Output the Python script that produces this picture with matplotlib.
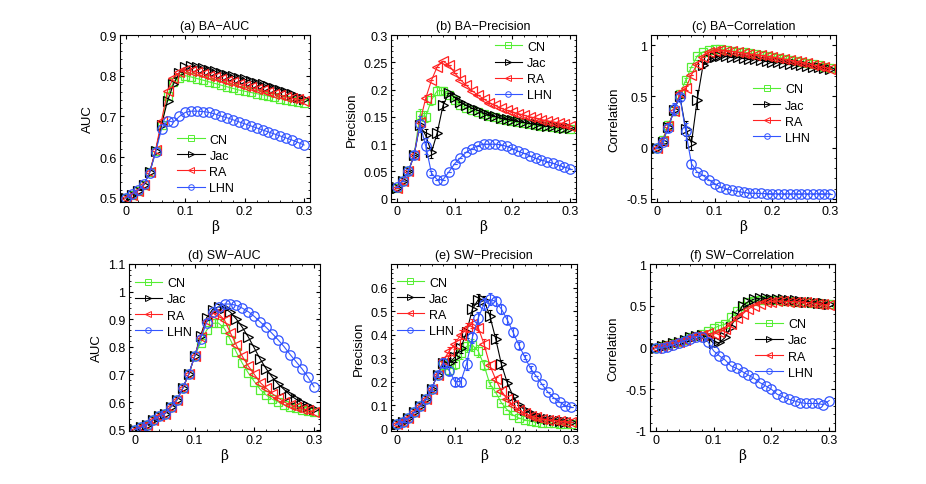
import matplotlib
matplotlib.use("Agg")
import matplotlib.pyplot as plt
from matplotlib.ticker import FuncFormatter, AutoMinorLocator

plt.rcParams['font.family'] = ['Liberation Sans', 'DejaVu Sans']
plt.rcParams['font.size'] = 9

# beta values: 0 .. 0.3 in steps of 0.01
beta = [i / 100 for i in range(31)]

# (a) BA-AUC
ba_auc_cn = [0.500, 0.508, 0.518, 0.532, 0.563, 0.615, 0.680, 0.750, 0.785, 0.795, 0.800,
             0.797, 0.793, 0.789, 0.785, 0.781, 0.777, 0.773, 0.769, 0.765, 0.762,
             0.759, 0.756, 0.753, 0.750, 0.747, 0.744, 0.741, 0.738, 0.736, 0.733]
ba_auc_jac = [0.500, 0.508, 0.518, 0.532, 0.563, 0.615, 0.680, 0.738, 0.779, 0.807, 0.821,
              0.823, 0.822, 0.819, 0.815, 0.811, 0.807, 0.803, 0.799, 0.795, 0.791,
              0.787, 0.783, 0.779, 0.775, 0.770, 0.766, 0.760, 0.755, 0.748, 0.742]
ba_auc_ra = [0.500, 0.508, 0.518, 0.532, 0.563, 0.618, 0.690, 0.763, 0.795, 0.808, 0.814,
             0.812, 0.808, 0.804, 0.800, 0.796, 0.792, 0.788, 0.784, 0.780, 0.776,
             0.772, 0.768, 0.764, 0.760, 0.756, 0.752, 0.748, 0.745, 0.742, 0.739]
ba_auc_lhn = [0.500, 0.510, 0.519, 0.533, 0.562, 0.612, 0.670, 0.690, 0.686, 0.700, 0.710,
              0.713, 0.713, 0.712, 0.710, 0.706, 0.701, 0.697, 0.692, 0.687, 0.682,
              0.677, 0.672, 0.667, 0.662, 0.657, 0.652, 0.647, 0.642, 0.636, 0.630]

# (b) BA-Precision
ba_pre_cn = [0.020, 0.033, 0.050, 0.080, 0.154, 0.150, 0.181, 0.198, 0.198, 0.190, 0.180,
             0.172, 0.166, 0.162, 0.158, 0.155, 0.152, 0.149, 0.147, 0.145, 0.143,
             0.141, 0.139, 0.137, 0.136, 0.134, 0.133, 0.132, 0.130, 0.129, 0.128]
ba_pre_jac = [0.020, 0.033, 0.050, 0.080, 0.135, 0.116, 0.085, 0.121, 0.171, 0.194, 0.186,
              0.177, 0.171, 0.166, 0.162, 0.157, 0.154, 0.151, 0.148, 0.146, 0.144,
              0.142, 0.140, 0.138, 0.137, 0.135, 0.134, 0.133, 0.131, 0.130, 0.129]
ba_pre_ra = [0.020, 0.033, 0.050, 0.080, 0.140, 0.184, 0.217, 0.242, 0.252, 0.245, 0.231,
             0.218, 0.208, 0.198, 0.190, 0.183, 0.176, 0.171, 0.166, 0.162, 0.159,
             0.156, 0.153, 0.150, 0.148, 0.145, 0.143, 0.141, 0.139, 0.137, 0.134]
ba_pre_lhn = [0.021, 0.033, 0.050, 0.080, 0.137, 0.097, 0.047, 0.035, 0.035, 0.049, 0.064,
              0.075, 0.085, 0.092, 0.097, 0.100, 0.100, 0.100, 0.099, 0.096, 0.092,
              0.087, 0.083, 0.079, 0.074, 0.071, 0.068, 0.065, 0.061, 0.058, 0.055]
ba_pre_err_cn = [0, 0, 0, 0, 0.010, 0.010, 0.010, 0.008, 0.006, 0, 0,
                 0, 0, 0, 0, 0, 0, 0, 0, 0, 0, 0, 0, 0, 0, 0, 0, 0, 0, 0, 0]
ba_pre_err_jac = [0, 0, 0, 0, 0.012, 0.012, 0.010, 0.010, 0.008, 0, 0,
                  0, 0, 0, 0, 0, 0, 0, 0, 0, 0, 0, 0, 0, 0, 0, 0, 0, 0, 0, 0]
ba_pre_err_ra = [0, 0, 0.004, 0.008, 0.012, 0.006, 0, 0, 0, 0, 0,
                 0, 0, 0, 0, 0, 0, 0, 0, 0, 0, 0, 0, 0, 0, 0, 0, 0, 0, 0, 0]
ba_pre_err_lhn = [0, 0, 0.005, 0.008, 0.015, 0.015, 0.004, 0, 0, 0, 0,
                  0, 0, 0, 0, 0, 0, 0, 0, 0, 0, 0, 0, 0, 0, 0, 0, 0, 0, 0, 0]

# (c) BA-Correlation
ba_cor_cn = [0.00, 0.08, 0.22, 0.36, 0.52, 0.66, 0.79, 0.895, 0.935, 0.950, 0.960,
             0.960, 0.950, 0.945, 0.938, 0.930, 0.922, 0.914, 0.906, 0.898, 0.890,
             0.880, 0.870, 0.860, 0.850, 0.840, 0.828, 0.816, 0.804, 0.792, 0.780]
ba_cor_jac = [0.00, 0.06, 0.20, 0.37, 0.50, 0.186, 0.045, 0.47, 0.805, 0.863, 0.886,
              0.895, 0.895, 0.890, 0.883, 0.876, 0.869, 0.862, 0.855, 0.848, 0.841,
              0.834, 0.827, 0.820, 0.813, 0.806, 0.799, 0.792, 0.785, 0.778, 0.772]
ba_cor_ra = [0.00, 0.07, 0.21, 0.36, 0.53, 0.58, 0.71, 0.82, 0.886, 0.935, 0.948,
             0.954, 0.948, 0.940, 0.932, 0.924, 0.916, 0.908, 0.900, 0.892, 0.884,
             0.874, 0.864, 0.854, 0.844, 0.834, 0.822, 0.810, 0.798, 0.785, 0.772]
ba_cor_lhn = [0.00, 0.06, 0.19, 0.375, 0.495, 0.16, -0.156, -0.238, -0.27, -0.313, -0.35,
              -0.384, -0.40, -0.417, -0.427, -0.437, -0.443, -0.445, -0.447, -0.448, -0.449,
              -0.450, -0.450, -0.450, -0.450, -0.450, -0.450, -0.450, -0.449, -0.450, -0.450]
ba_cor_err_cn = [0, 0.03, 0.04, 0.04, 0.03, 0.02, 0, 0, 0, 0, 0,
                 0, 0, 0, 0, 0, 0, 0, 0, 0, 0, 0, 0, 0, 0, 0, 0, 0, 0, 0, 0]
ba_cor_err_jac = [0, 0.03, 0.04, 0.05, 0.04, 0.07, 0.07, 0.09, 0.03, 0, 0,
                  0, 0, 0, 0, 0, 0, 0, 0, 0, 0, 0, 0, 0, 0, 0, 0, 0, 0, 0, 0]
ba_cor_err_ra = [0, 0.03, 0.04, 0.04, 0.03, 0.02, 0, 0, 0, 0, 0,
                 0, 0, 0, 0, 0, 0, 0, 0, 0, 0, 0, 0, 0, 0, 0, 0, 0, 0, 0, 0]
ba_cor_err_lhn = [0, 0.02, 0.04, 0.06, 0.03, 0.08, 0.04, 0, 0, 0, 0,
                  0, 0, 0, 0, 0, 0, 0, 0, 0, 0, 0, 0, 0, 0, 0, 0, 0, 0, 0, 0]

# (d) SW-AUC
sw_auc_cn = [0.500, 0.508, 0.518, 0.535, 0.549, 0.558, 0.582, 0.607, 0.650, 0.700, 0.766,
             0.815, 0.860, 0.885, 0.886, 0.866, 0.825, 0.780, 0.740, 0.705, 0.674,
             0.645, 0.625, 0.610, 0.600, 0.590, 0.583, 0.577, 0.572, 0.567, 0.563]
sw_auc_jac = [0.500, 0.508, 0.518, 0.535, 0.549, 0.558, 0.582, 0.607, 0.650, 0.700, 0.766,
              0.840, 0.905, 0.935, 0.945, 0.940, 0.925, 0.900, 0.870, 0.835, 0.795,
              0.755, 0.720, 0.690, 0.665, 0.645, 0.625, 0.610, 0.595, 0.585, 0.575]
sw_auc_ra = [0.500, 0.508, 0.518, 0.535, 0.549, 0.558, 0.582, 0.607, 0.650, 0.700, 0.766,
             0.835, 0.895, 0.920, 0.920, 0.897, 0.850, 0.805, 0.765, 0.730, 0.700,
             0.670, 0.650, 0.630, 0.615, 0.600, 0.590, 0.583, 0.576, 0.570, 0.565]
sw_auc_lhn = [0.500, 0.508, 0.518, 0.535, 0.549, 0.558, 0.582, 0.607, 0.650, 0.700, 0.766,
              0.830, 0.888, 0.927, 0.946, 0.955, 0.955, 0.950, 0.940, 0.927, 0.910,
              0.890, 0.870, 0.848, 0.825, 0.800, 0.772, 0.746, 0.720, 0.690, 0.655]

# (e) SW-Precision
sw_pre_cn = [0.020, 0.030, 0.045, 0.070, 0.095, 0.125, 0.170, 0.230, 0.270, 0.250, 0.275,
             0.320, 0.350, 0.355, 0.330, 0.270, 0.190, 0.155, 0.110, 0.080, 0.058,
             0.045, 0.038, 0.032, 0.028, 0.025, 0.023, 0.022, 0.021, 0.020, 0.020]
sw_pre_jac = [0.020, 0.030, 0.045, 0.070, 0.095, 0.125, 0.170, 0.230, 0.280, 0.280, 0.304,
              0.343, 0.410, 0.508, 0.548, 0.545, 0.480, 0.383, 0.273, 0.195, 0.138,
              0.100, 0.080, 0.065, 0.055, 0.047, 0.040, 0.037, 0.033, 0.030, 0.028]
sw_pre_ra = [0.020, 0.030, 0.045, 0.070, 0.095, 0.125, 0.170, 0.230, 0.290, 0.329, 0.360,
             0.400, 0.430, 0.446, 0.430, 0.360, 0.270, 0.210, 0.160, 0.125, 0.100,
             0.080, 0.065, 0.055, 0.048, 0.042, 0.038, 0.035, 0.032, 0.030, 0.028]
sw_pre_lhn = [0.020, 0.030, 0.045, 0.070, 0.095, 0.125, 0.170, 0.230, 0.280, 0.247, 0.200,
              0.200, 0.275, 0.388, 0.470, 0.530, 0.550, 0.541, 0.508, 0.463, 0.410,
              0.355, 0.305, 0.256, 0.223, 0.188, 0.155, 0.131, 0.113, 0.098, 0.092]
sw_pre_err_cn = [0, 0, 0, 0, 0, 0, 0, 0.01, 0.02, 0.02, 0.02,
                 0.025, 0.025, 0.025, 0.025, 0.02, 0.01, 0, 0, 0, 0,
                 0, 0, 0, 0, 0, 0, 0, 0, 0, 0]
sw_pre_err_jac = [0, 0, 0, 0, 0, 0, 0, 0.01, 0.015, 0.02, 0.02,
                  0.02, 0.025, 0.025, 0.025, 0.02, 0.025, 0.02, 0.02, 0.015, 0.01,
                  0, 0, 0, 0, 0, 0, 0, 0, 0, 0]
sw_pre_err_ra = [0, 0, 0, 0, 0, 0, 0, 0.01, 0.015, 0.02, 0.02,
                 0.02, 0.02, 0.02, 0.02, 0.02, 0.015, 0.01, 0.01, 0, 0,
                 0, 0, 0, 0, 0, 0, 0, 0, 0, 0]
sw_pre_err_lhn = [0, 0, 0, 0, 0, 0, 0.01, 0.01, 0.02, 0.02, 0.02,
                  0.02, 0.025, 0.025, 0.025, 0.025, 0.025, 0.02, 0.02, 0.02, 0.02,
                  0.015, 0.01, 0.01, 0, 0, 0, 0, 0, 0, 0]

# (f) SW-Correlation
sw_cor_cn = [0.00, 0.02, 0.03, 0.05, 0.07, 0.09, 0.12, 0.14, 0.16, 0.20, 0.23,
             0.26, 0.28, 0.36, 0.44, 0.50, 0.54, 0.56, 0.57, 0.57, 0.57,
             0.565, 0.56, 0.555, 0.55, 0.545, 0.54, 0.535, 0.53, 0.525, 0.52]
sw_cor_jac = [0.00, 0.02, 0.03, 0.05, 0.07, 0.09, 0.12, 0.14, 0.15, 0.12, 0.05,
              0.06, 0.12, 0.25, 0.38, 0.50, 0.55, 0.58, 0.59, 0.59, 0.585,
              0.58, 0.575, 0.57, 0.565, 0.56, 0.55, 0.545, 0.535, 0.53, 0.52]
sw_cor_ra = [0.00, 0.02, 0.03, 0.05, 0.07, 0.09, 0.12, 0.14, 0.15, 0.17, 0.16,
             0.18, 0.22, 0.28, 0.35, 0.40, 0.46, 0.50, 0.52, 0.54, 0.55,
             0.555, 0.555, 0.55, 0.55, 0.545, 0.54, 0.535, 0.525, 0.515, 0.51]
sw_cor_lhn = [-0.01, 0.00, 0.01, 0.03, 0.055, 0.08, 0.10, 0.13, 0.13, 0.07, -0.04,
              -0.10, -0.15, -0.22, -0.25, -0.29, -0.33, -0.37, -0.42, -0.46, -0.50,
              -0.56, -0.59, -0.62, -0.64, -0.66, -0.67, -0.67, -0.67, -0.685, -0.635]

labels = ['CN', 'Jac', 'RA', 'LHN']
colors = ['#55ee33', 'black', '#ff2222', '#3355ff']
markers = ['s', '>', '<', 'o']
msizes = [6, 6.5, 6.5, 6.8]

panels = [
    ('(a) BA\u2212AUC', 'AUC', [ba_auc_cn, ba_auc_jac, ba_auc_ra, ba_auc_lhn], None,
     (0.49, 0.9), [0.5, 0.6, 0.7, 0.8, 0.9]),
    ('(b) BA\u2212Precision', 'Precision', [ba_pre_cn, ba_pre_jac, ba_pre_ra, ba_pre_lhn],
     [ba_pre_err_cn, ba_pre_err_jac, ba_pre_err_ra, ba_pre_err_lhn],
     (-0.006, 0.3), [0, 0.05, 0.1, 0.15, 0.2, 0.25, 0.3]),
    ('(c) BA\u2212Correlation', 'Correlation', [ba_cor_cn, ba_cor_jac, ba_cor_ra, ba_cor_lhn],
     [ba_cor_err_cn, ba_cor_err_jac, ba_cor_err_ra, ba_cor_err_lhn],
     (-0.53, 1.1), [-0.5, 0, 0.5, 1]),
    ('(d) SW\u2212AUC', 'AUC', [sw_auc_cn, sw_auc_jac, sw_auc_ra, sw_auc_lhn], None,
     (0.495, 1.1), [0.5, 0.6, 0.7, 0.8, 0.9, 1, 1.1]),
    ('(e) SW\u2212Precision', 'Precision', [sw_pre_cn, sw_pre_jac, sw_pre_ra, sw_pre_lhn],
     [sw_pre_err_cn, sw_pre_err_jac, sw_pre_err_ra, sw_pre_err_lhn],
     (-0.01, 0.7), [0, 0.1, 0.2, 0.3, 0.4, 0.5, 0.6]),
    ('(f) SW\u2212Correlation', 'Correlation', [sw_cor_cn, sw_cor_jac, sw_cor_ra, sw_cor_lhn], None,
     (-1, 1), [-1, -0.5, 0, 0.5, 1]),
]

# axes boxes in pixels: left, right, top, bottom
W, H = 926, 485
boxes = [(120, 310, 36, 203), (391, 576, 36, 203), (651, 836, 36, 203),
         (129, 320, 265, 432), (391, 577, 265, 432), (650, 835, 265, 432)]
# legend upper-left anchor in axes fraction
leg_pos = [(0.30, 0.41), (0.56, 0.965), (0.55, 0.71),
           (0.03, 0.92), (0.03, 0.925), (0.57, 0.675)]

fmt = FuncFormatter(lambda v, p: '%g' % round(v, 3))

fig = plt.figure(figsize=(W / 100, H / 100), dpi=100)
for (title, ylab, series, errs, ylim, yticks), (l, r, t, b), lp in zip(panels, boxes, leg_pos):
    ax = fig.add_axes([l / W, 1 - b / H, (r - l) / W, (b - t) / H])
    for i, (y, lab, c, m) in enumerate(zip(series, labels, colors, markers)):
        if errs is not None:
            ax.errorbar(beta, y, yerr=errs[i], fmt='none', ecolor=c, elinewidth=0.8,
                        capsize=1.5, capthick=0.8)
        ax.plot(beta, y, color=c, marker=m, ms=msizes[i], mfc='none', mec=c, mew=0.9,
                lw=0.8, label=lab)
    ax.set_xlim(-0.01, 0.31)
    ax.set_ylim(*ylim)
    ax.set_xticks([0, 0.1, 0.2, 0.3])
    ax.set_yticks(yticks)
    ax.xaxis.set_major_formatter(fmt)
    ax.yaxis.set_major_formatter(fmt)
    ax.xaxis.set_minor_locator(AutoMinorLocator(5))
    ax.yaxis.set_minor_locator(AutoMinorLocator(5))
    ax.tick_params(which='both', direction='in', top=True, right=True, labelsize=9, pad=2.5)
    ax.tick_params(which='major', length=3)
    ax.tick_params(which='minor', length=1.5)
    ax.set_title(title, fontsize=9, pad=4)
    ax.set_ylabel(ylab, fontsize=9.5, labelpad=4)
    ax.set_xlabel('\u03b2', fontsize=10, family=['DejaVu Serif'], labelpad=1)
    leg = ax.legend(loc='upper left', bbox_to_anchor=lp, frameon=False, fontsize=9,
                    handlelength=2.2, handletextpad=0.4,
                    labelspacing=0.33, borderpad=0, borderaxespad=0)
    for h in leg.legend_handles:
        h.set_markersize(4)
        h.set_markeredgewidth(0.7)

fig.savefig('out.png', dpi=100)
